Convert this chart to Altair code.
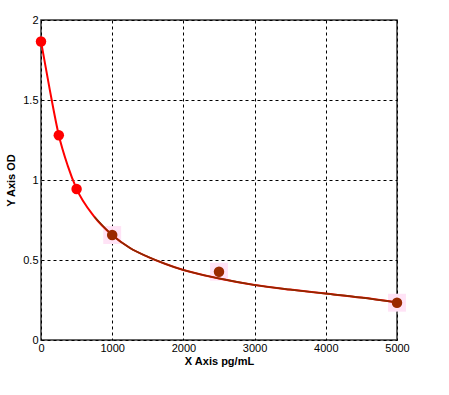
import altair as alt
import pandas as pd

# Standard points
std_x = [0, 250, 500, 1000, 2500, 5000]
std_y = [1.866, 1.28, 0.944, 0.656, 0.427, 0.233]
std_group = ["red", "red", "red", "brown", "brown", "brown"]

# Fitted curve, values
curve_x = [0, 125, 250, 375, 500, 750, 1000, 1250, 1500, 1750, 2000, 2500, 3000, 3500, 4000, 4500, 5000]
curve_y = [1.866, 1.56, 1.28, 1.09, 0.944, 0.77, 0.656, 0.575, 0.52, 0.475, 0.437, 0.385, 0.344, 0.315, 0.29, 0.265, 0.235]

pts = pd.DataFrame({"x": std_x, "y": std_y, "g": std_group})
curve = pd.DataFrame({"x": curve_x, "y": curve_y})

xs = alt.Scale(domain=[0, 5000], nice=False)
ys = alt.Scale(domain=[0, 2], nice=False)

xax = alt.Axis(values=[0, 1000, 2000, 3000, 4000, 5000], title="X Axis pg/mL", grid=True,
               gridDash=[3, 3], gridColor="#000000", gridOpacity=1, gridWidth=1,
               ticks=False, labelPadding=2, domain=False, format="d",
               labelFont="Liberation Sans", labelFontSize=11, labelColor="#000000",
               titleFont="Liberation Sans", titleFontSize=11, titleFontWeight="bold",
               titleColor="#000000", titlePadding=2, labelFlush=False)
yax = alt.Axis(values=[0, 0.5, 1, 1.5, 2], title="Y Axis OD", grid=True,
               gridDash=[3, 3], gridColor="#000000", gridOpacity=1, gridWidth=1,
               ticks=False, labelPadding=3, domain=False, format=".1~f",
               labelFont="Liberation Sans", labelFontSize=11, labelColor="#000000",
               titleFont="Liberation Sans", titleFontSize=11, titleFontWeight="bold",
               titleColor="#000000", titlePadding=6, labelFlush=False)

halo = alt.Chart(pts[pts.g == "brown"]).mark_square(size=320, color="#ffe3f6", opacity=1).encode(
    x=alt.X("x:Q", scale=xs, axis=xax), y=alt.Y("y:Q", scale=ys, axis=yax))

line_red = alt.Chart(curve).mark_line(color="#ff0000", strokeWidth=2, interpolate="monotone").encode(
    x=alt.X("x:Q", scale=xs, axis=xax), y=alt.Y("y:Q", scale=ys, axis=yax))
line_brown = alt.Chart(curve[curve.x >= 750]).mark_line(color="#8b2a00", strokeWidth=1.6, interpolate="monotone").encode(
    x=alt.X("x:Q", scale=xs), y=alt.Y("y:Q", scale=ys))

points = alt.Chart(pts).mark_point(shape="circle", filled=True, size=110, opacity=1).encode(
    x=alt.X("x:Q", scale=xs), y=alt.Y("y:Q", scale=ys),
    color=alt.Color("g:N", scale=alt.Scale(domain=["red", "brown"], range=["#ff0000", "#9a2a00"]), legend=None))

chart = (halo + line_red + line_brown + points).properties(
    width=356, height=320,
    autosize=alt.AutoSizeParams(type="none"),
    padding={"left": 41, "top": 20, "right": 52, "bottom": 55},
    background="#ffffff",
).configure_view(stroke="#333333", strokeWidth=1.5)

chart.save("out.html", embed_options={"renderer": "svg", "actions": False})
